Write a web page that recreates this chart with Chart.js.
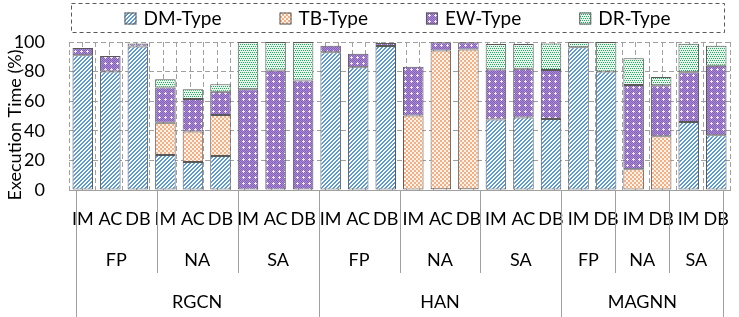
<!DOCTYPE html>
<html>
<head>
<meta charset="utf-8">
<script src="https://cdn.jsdelivr.net/npm/chart.js@4"></script>
<style>
  body { margin: 0; background: #fff; }
  #wrap { width: 739px; height: 317px; position: relative; }
</style>
</head>
<body>
<div id="wrap"><canvas id="myChart"></canvas></div>
<script>
// Level 1 categories (one per bar)
const categories = ['IM', 'AC', 'DB', 'IM', 'AC', 'DB', 'IM', 'AC', 'DB',
                    'IM', 'AC', 'DB', 'IM', 'AC', 'DB', 'IM', 'AC', 'DB',
                    'IM', 'DB', 'IM', 'DB', 'IM', 'DB'];
// Level 2 and level 3 groups
const taskLabels = ['FP', 'NA', 'SA', 'FP', 'NA', 'SA', 'FP', 'NA', 'SA'];
const taskSizes = [3, 3, 3, 3, 3, 3, 2, 2, 2];
const modelLabels = ['RGCN', 'HAN', 'MAGNN'];
const modelSizes = [9, 9, 6];

// Execution time share (%) per type
const dmType = [91, 80, 97, 23.6, 19, 23, 0, 0, 0, 93, 83, 97.3, 0, 0.5, 0.5, 47.7, 49, 48, 96.4, 80, 0, 0, 46, 37];
const tbType = [0, 0, 0, 21.8, 20.5, 27.7, 0, 0, 0, 0, 0, 0, 50.3, 93.7, 94.4, 0, 0, 0, 0, 0, 14, 36.4, 0, 0];
const ewType = [5, 10.5, 2, 23.8, 22, 15.7, 68, 80.7, 74, 4.5, 9, 2, 33, 5.6, 4.9, 33.7, 33, 33, 0, 0, 57, 34.4, 33.5, 47];
const drType = [0, 0, 0, 5.6, 6.5, 5, 32, 19.3, 26, 0, 0, 0, 0, 0, 0, 17.3, 16.6, 18, 3.6, 20, 18, 5.6, 19.3, 13.5];

const yTicks = [0, 20, 40, 60, 80, 100];
const yTitle = 'Execution Time (%)';

const FONT = 'Lato, "Open Sans", sans-serif';
const GRID = '#a0a0a0';
const EDGE = '#595959';

// Build fill patterns pixel by pixel
function makePattern(size, paint) {
    const c = document.createElement('canvas');
    c.width = size;
    c.height = size;
    const g = c.getContext('2d');
    for (let y = 0; y < size; y++) {
        for (let x = 0; x < size; x++) {
            g.fillStyle = paint(x, y);
            g.fillRect(x, y, 1, 1);
        }
    }
    return g.createPattern(c, 'repeat');
}

const dmPattern = makePattern(4, (x, y) => ((x + y) % 4 < 2 ? '#5b9bd5' : '#ffffff'));
const tbPattern = makePattern(4, (x, y) => ((Math.floor(x / 2) + Math.floor(y / 2)) % 2 === 0 ? '#f4b084' : '#fff4ec'));
const ewPattern = makePattern(6, (x, y) => {
    if ((x === 3 && y >= 2 && y <= 4) || (y === 3 && x >= 2 && x <= 4)) return '#f2eafa';
    return (x + y) % 2 === 0 ? '#8460b8' : '#a98cd3';
});
const drPattern = makePattern(4, (x, y) => {
    if ((x === 0 && y === 0) || (x === 2 && y === 0) || (x === 1 && y === 2) || (x === 3 && y === 2)) return '#1faa5c';
    return '#e9f8ef';
});

// Dashed legend box at the top, plus the rotated y title
const legendBox = {
    id: 'legendBox',
    afterDraw(chart) {
        const ctx = chart.ctx;
        const area = chart.chartArea;
        const left = area.left + 2, right = area.right - 6, top = 3, bottom = 32;
        ctx.save();
        ctx.strokeStyle = EDGE;
        ctx.lineWidth = 1;
        ctx.setLineDash([4, 3]);
        ctx.strokeRect(left + 0.5, top + 0.5, right - left, bottom - top);
        ctx.setLineDash([]);

        ctx.font = '19px ' + FONT;
        ctx.textBaseline = 'middle';
        ctx.fillStyle = '#000';
        const sets = chart.data.datasets;
        const widths = sets.map(ds => 12 + 7 + ctx.measureText(ds.label).width);
        const gap = 58;
        const total = widths.reduce((a, b) => a + b, 0) + gap * (sets.length - 1);
        let x = (left + right) / 2 - total / 2;
        const cy = (top + bottom) / 2 + 1;
        sets.forEach((ds, i) => {
            ctx.fillStyle = ds.backgroundColor;
            ctx.fillRect(x, cy - 6, 12, 12);
            ctx.strokeStyle = EDGE;
            ctx.strokeRect(x + 0.5, cy - 5.5, 11, 11);
            ctx.fillStyle = '#000';
            ctx.fillText(ds.label, x + 19, cy);
            x += widths[i] + gap;
        });

        // y axis title, sitting a little below the plot middle as in the original
        ctx.font = '18px ' + FONT;
        ctx.textAlign = 'center';
        ctx.translate(15, (area.top + area.bottom) / 2 + 9);
        ctx.rotate(-Math.PI / 2);
        ctx.fillText(yTitle, 0, 0);
        ctx.restore();
    }
};

// Second and third level of the category axis
const groupAxis = {
    id: 'groupAxis',
    afterDraw(chart) {
        const ctx = chart.ctx;
        const g = chart.scales.xg;
        const base = chart.chartArea.bottom;
        const full = chart.height;
        ctx.save();
        ctx.strokeStyle = GRID;
        ctx.lineWidth = 1;
        ctx.fillStyle = '#000';
        ctx.textAlign = 'center';
        ctx.textBaseline = 'middle';
        ctx.font = '18px ' + FONT;

        const line = (px, y2) => {
            const xx = Math.round(px) + 0.5;
            ctx.beginPath();
            ctx.moveTo(xx, base);
            ctx.lineTo(xx, y2);
            ctx.stroke();
        };

        let start = 0;
        taskLabels.forEach((lab, i) => {
            const a = g.getPixelForValue(start - 0.5);
            const b = g.getPixelForValue(start + taskSizes[i] - 0.5);
            line(a, base + 83);
            ctx.fillText(lab, (a + b) / 2, base + 70);
            start += taskSizes[i];
        });

        start = 0;
        modelLabels.forEach((lab, i) => {
            const a = g.getPixelForValue(start - 0.5);
            const b = g.getPixelForValue(start + modelSizes[i] - 0.5);
            line(a, full);
            ctx.fillText(lab, (a + b) / 2, base + 112);
            start += modelSizes[i];
        });
        line(g.getPixelForValue(start - 0.5), full);
        ctx.restore();
    }
};

const ctx = document.getElementById('myChart').getContext('2d');
const myChart = new Chart(ctx, {
    type: 'bar',
    data: {
        labels: categories,
        datasets: [
            { label: 'DM-Type', data: dmType, backgroundColor: dmPattern },
            { label: 'TB-Type', data: tbType, backgroundColor: tbPattern },
            { label: 'EW-Type', data: ewType, backgroundColor: ewPattern },
            { label: 'DR-Type', data: drType, backgroundColor: drPattern }
        ].map(ds => Object.assign(ds, {
            borderColor: EDGE,
            borderWidth: 1,
            borderSkipped: false,
            barPercentage: 0.745,
            categoryPercentage: 1
        }))
    },
    options: {
        responsive: true,
        maintainAspectRatio: false,
        animation: false,
        layout: { padding: { top: 42, right: 4, bottom: 0, left: 0 } },
        plugins: {
            legend: { display: false },
            tooltip: { enabled: false }
        },
        scales: {
            x: {
                stacked: true,
                grid: { display: false },
                border: { display: true, color: GRID, width: 1 },
                ticks: {
                    autoSkip: false,
                    maxRotation: 0,
                    padding: 10,
                    color: '#000',
                    font: { family: FONT, size: 18 }
                },
                afterFit: s => { s.height = 127; }
            },
            xg: {
                type: 'linear',
                position: 'bottom',
                min: -0.5,
                max: categories.length - 0.5,
                ticks: { display: false, stepSize: 0.5 },
                grid: { color: GRID, drawTicks: false },
                border: { display: false, dash: [5, 3] },
                afterFit: s => { s.height = 0; }
            },
            y: {
                stacked: true,
                min: 0,
                max: 100,
                afterBuildTicks: s => { s.ticks = yTicks.map(v => ({ value: v })); },
                grid: { color: GRID, drawTicks: false },
                border: { display: false, dash: [5, 3] },
                ticks: {
                    padding: 24,
                    color: '#000',
                    font: { family: FONT, size: 18 }
                },
                afterFit: s => { s.width = 69; }
            }
        }
    },
    plugins: [legendBox, groupAxis]
});
</script>
</body>
</html>
